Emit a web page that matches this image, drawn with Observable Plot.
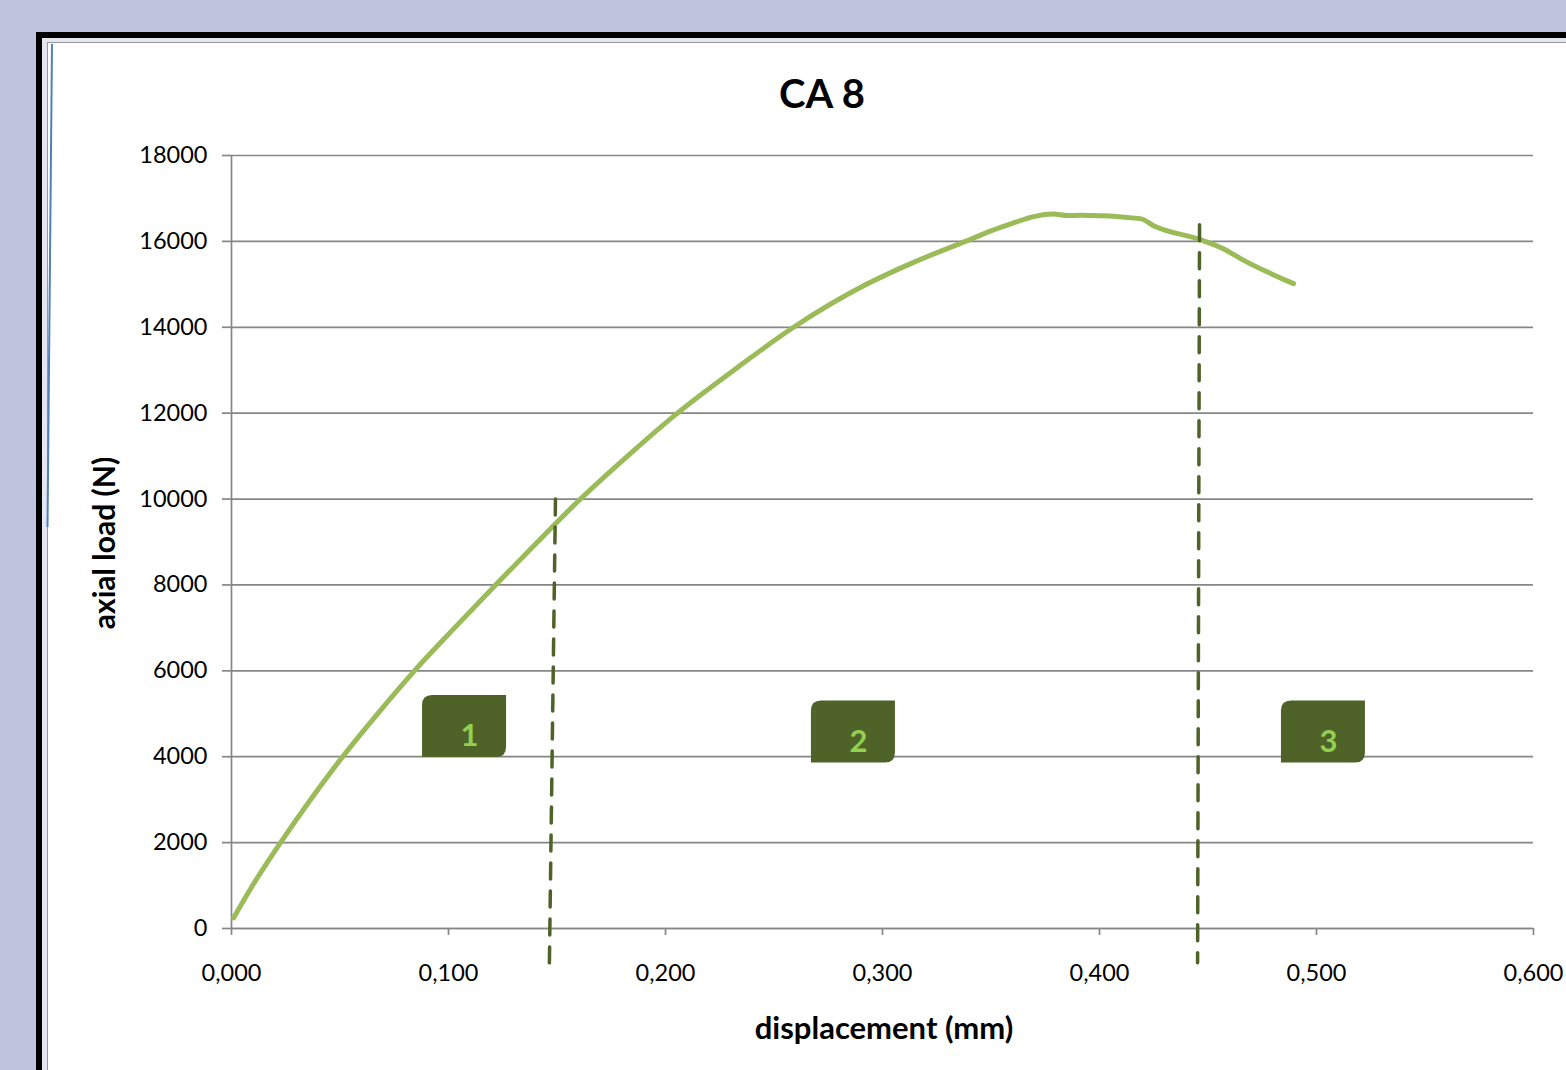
<!DOCTYPE html>
<html>
<head>
<meta charset="utf-8">
<script src="https://cdn.jsdelivr.net/npm/d3@7"></script>
<script src="https://cdn.jsdelivr.net/npm/@observablehq/plot@0.6"></script>
<style>
  html, body { margin: 0; padding: 0; width: 1566px; height: 1070px; overflow: hidden; background: #BFC4DE; font-family: Lato, "Open Sans", sans-serif; }
  #frame { position: absolute; left: 36px; top: 32px; width: 1600px; height: 1100px; border-left: 6px solid #000; border-top: 6px solid #000; background: #E4E6F0; }
  #inner { position: absolute; left: 5px; top: 4px; right: 0; bottom: 0; border-left: 1.5px solid #9a9a9a; border-top: 1.5px solid #9a9a9a; background: #fff; }
  #deco { position: absolute; left: 0; top: 0; }
  #chart { position: absolute; left: 0; top: 0; }
  .title { position: absolute; left: 822px; top: 93px; transform: translate(-50%, -50%); font-weight: 700; font-size: 40px; color: #000; white-space: nowrap; }
  .xlab { position: absolute; left: 884px; top: 1027px; transform: translate(-50%, -50%); font-weight: 700; font-size: 31px; color: #000; white-space: nowrap; }
  .ylab { position: absolute; left: 103px; top: 543px; transform: translate(-50%, -50%) rotate(-90deg); font-weight: 700; font-size: 30px; color: #000; white-space: nowrap; }
</style>
</head>
<body>
<div id="frame"><div id="inner"></div></div>
<svg id="deco" width="1566" height="1070"><line x1="52" y1="44" x2="47.5" y2="527" stroke="#4F81BD" stroke-width="2"/></svg>
<div id="chart"></div>
<div class="title">CA 8</div>
<div class="xlab">displacement (mm)</div>
<div class="ylab">axial load (N)</div>
<script>
// ---- data ----
const displacement = [0.001, 0.0097, 0.0226, 0.0364, 0.0512, 0.0673, 0.0843, 0.1028, 0.1217, 0.1410, 0.1608, 0.1825, 0.2055, 0.2315, 0.2590, 0.2926, 0.3138, 0.3382, 0.3544, 0.3788, 0.3853, 0.3912, 0.4189, 0.4249, 0.4465, 0.4571, 0.4650, 0.4894];
const axialLoad    = [250, 1000, 2000, 3000, 4000, 5000, 6000, 7000, 8000, 9000, 10000, 11000, 12000, 13000, 14000, 15000, 15500, 16000, 16325, 16640, 16600, 16610, 16530, 16366, 16040, 15830, 15600, 15016];

const xTicks = [0, 0.1, 0.2, 0.3, 0.4, 0.5, 0.6];
const yTicks = [0, 2000, 4000, 6000, 8000, 10000, 12000, 14000, 16000, 18000];

// phase boundaries (dashed lines): top and bottom ends
const boundaryId   = ["a", "a", "b", "b"];
const boundaryDisp = [0.1493, 0.1465, 0.4461, 0.4452];
const boundaryLoad = [10000, -800, 16390, -800];

// phase labels
const phaseLabels = ["1", "2", "3"];
const phaseDisp   = [0.1074, 0.2866, 0.5032];
const phaseLoad   = [4703, 4574, 4574];

// ---- tables ----
const curve = displacement.map((d, i) => ({d, f: axialLoad[i]}));
const bounds = boundaryDisp.map((d, i) => ({id: boundaryId[i], d, f: boundaryLoad[i]}));
const phases = phaseLabels.map((t, i) => ({t, d: phaseDisp[i], f: phaseLoad[i]}));

const fmtX = v => v.toFixed(3).replace(".", ",");

function boxes(index, scales) {
  const g = document.createElementNS("http://www.w3.org/2000/svg", "g");
  const w = 84, h = 62, r = 10;
  for (const p of phases) {
    const cx = scales.x(p.d), cy = scales.y(p.f);
    const x0 = cx - w / 2, y0 = cy - h / 2, x1 = cx + w / 2, y1 = cy + h / 2;
    const path = document.createElementNS("http://www.w3.org/2000/svg", "path");
    path.setAttribute("d",
      `M${x0 + r},${y0} H${x1} V${y1 - r} Q${x1},${y1} ${x1 - r},${y1} H${x0} V${y0 + r} Q${x0},${y0} ${x0 + r},${y0} Z`);
    path.setAttribute("fill", "#4F6228");
    g.appendChild(path);
  }
  return g;
}

const chart = Plot.plot({
  width: 1566,
  height: 1070,
  marginLeft: 231,
  marginRight: 33,
  marginTop: 155,
  marginBottom: 142,
  style: {fontFamily: "Lato, 'Open Sans', sans-serif", background: "transparent", overflow: "visible"},
  x: {domain: [0, 0.6]},
  y: {domain: [0, 18000]},
  marks: [
    Plot.gridY(yTicks, {stroke: "#868686", strokeOpacity: 1, strokeWidth: 1.7}),
    Plot.ruleX([0], {stroke: "#868686", strokeWidth: 1.7}),
    Plot.axisY(yTicks, {tickSize: 9, tickPadding: 15, stroke: "#868686", strokeWidth: 1.7, fontSize: 23.5, fill: "#000", label: null, tickFormat: d => String(d)}),
    Plot.axisX(xTicks, {tickSize: 7, tickPadding: 29, stroke: "#868686", strokeWidth: 1.7, fontSize: 23.5, fill: "#000", label: null, tickFormat: fmtX}),
    Plot.ruleY([0], {stroke: "#868686", strokeWidth: 1.7}),
    Plot.line(curve, {x: "d", y: "f", stroke: "#9BBB59", strokeWidth: 5, strokeLinejoin: "round", strokeLinecap: "round", curve: "monotone-x"}),
    Plot.line(bounds, {x: "d", y: "f", z: "id", stroke: "#4F6228", strokeWidth: 3.5, strokeDasharray: "16,12"}),
    boxes,
    Plot.text(phases, {x: "d", y: "f", text: "t", fill: "#92D050", fontSize: 31, fontWeight: "bold", dx: 5, dy: 10})
  ]
});
document.getElementById("chart").appendChild(chart);
</script>
</body>
</html>
